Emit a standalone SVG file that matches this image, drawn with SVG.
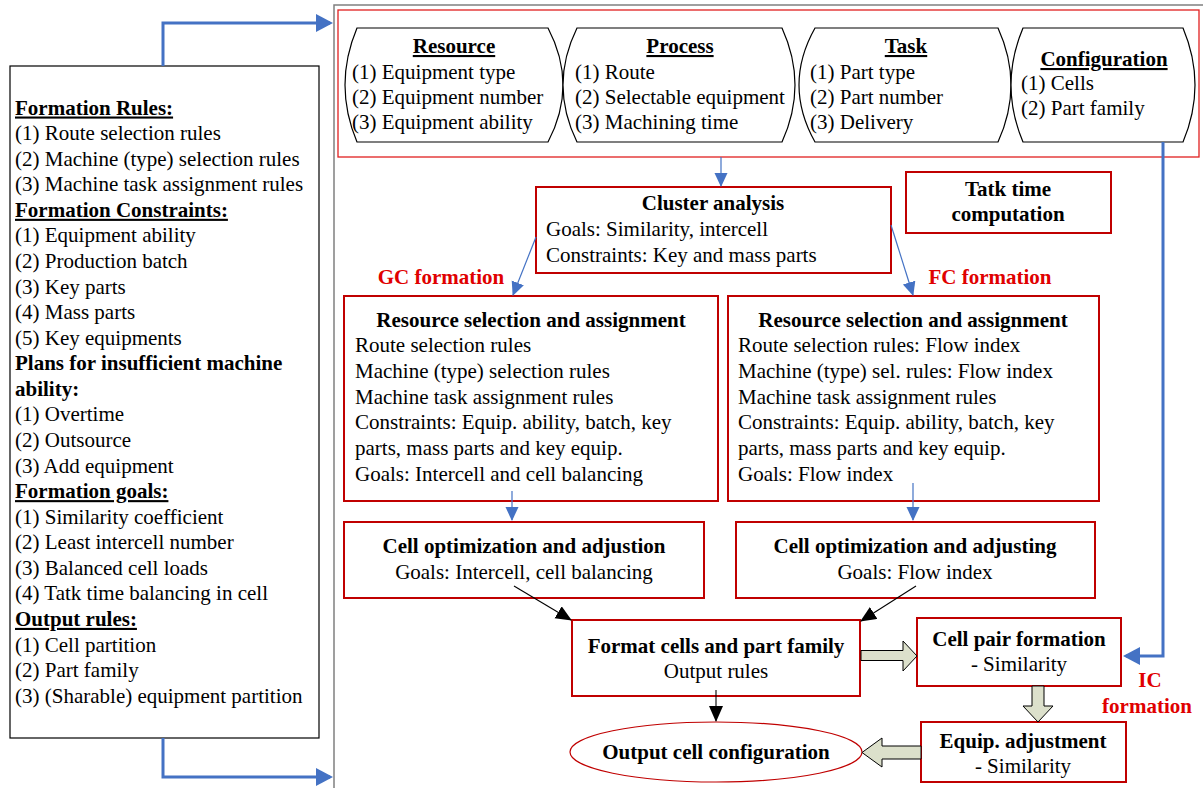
<svg xmlns="http://www.w3.org/2000/svg" width="1203" height="788" viewBox="0 0 1203 788">
  <defs>
    <style>
      text { font-family: "Liberation Serif", "Times New Roman", serif; font-size: 21px; fill: #000; }
      .b { font-weight: bold; }
      .u { text-decoration: underline; }
      .c { text-anchor: middle; }
      .red { fill: #E00000; font-weight: bold; }
      .box { fill: #fff; stroke: #C00000; stroke-width: 2; }
      .shape { fill: #fff; stroke: #000; stroke-width: 1.2; }
      .thick { fill: none; stroke: #4472C4; stroke-width: 3; }
      .thin { fill: none; stroke: #4472C4; stroke-width: 1.2; }
      .blk { fill: none; stroke: #000; stroke-width: 1.1; }
      .hollow { fill: #DCE0CB; stroke: #000; stroke-width: 1; }
    </style>
    <marker id="bigBlue" markerUnits="userSpaceOnUse" markerWidth="18" markerHeight="20" refX="14" refY="9" orient="auto">
      <path d="M0,0 L17,9 L0,18 Z" fill="#4472C4"/>
    </marker>
    <marker id="smallBlue" markerUnits="userSpaceOnUse" markerWidth="16" markerHeight="14" refX="13" refY="6.5" orient="auto">
      <path d="M0,0 L14,6.5 L0,13 Z" fill="#4472C4"/>
    </marker>
    <marker id="blackHead" markerUnits="userSpaceOnUse" markerWidth="18" markerHeight="16" refX="15" refY="7" orient="auto">
      <path d="M0,0 L16,7 L0,14 Z" fill="#000"/>
    </marker>
  </defs>

  <rect width="1203" height="788" fill="#fff"/>

  <!-- outer frame of the right-hand area -->
  <path d="M334,788 V5 H1203" fill="none" stroke="#808080" stroke-width="1.5"/>

  <!-- left panel: rules, constraints and goals -->
  <g id="rules-panel">
    <rect x="10" y="66" width="309" height="672" fill="#fff" stroke="#000" stroke-width="1.2"/>
    <text x="15" y="114.5" class="b u">Formation Rules:</text>
    <text x="15" y="140.1">(1) Route selection rules</text>
    <text x="15" y="165.6">(2) Machine (type) selection rules</text>
    <text x="15" y="191.2">(3) Machine task assignment rules</text>
    <text x="15" y="216.8" class="b u">Formation Constraints:</text>
    <text x="15" y="242.4">(1) Equipment ability</text>
    <text x="15" y="267.9">(2) Production batch</text>
    <text x="15" y="293.5">(3) Key parts</text>
    <text x="15" y="319.1">(4) Mass parts</text>
    <text x="15" y="344.6">(5) Key equipments</text>
    <text x="15" y="370.2" class="b">Plans for insufficient machine</text>
    <text x="15" y="395.8" class="b">ability:</text>
    <text x="15" y="421.3">(1) Overtime</text>
    <text x="15" y="446.9">(2) Outsource</text>
    <text x="15" y="472.5">(3) Add equipment</text>
    <text x="15" y="498.1" class="b u">Formation goals:</text>
    <text x="15" y="523.6">(1) Similarity coefficient</text>
    <text x="15" y="549.2">(2) Least intercell number</text>
    <text x="15" y="574.8">(3) Balanced cell loads</text>
    <text x="15" y="600.3">(4) Tatk time balancing in cell</text>
    <text x="15" y="625.9" class="b u">Output rules:</text>
    <text x="15" y="651.5">(1) Cell partition</text>
    <text x="15" y="677.0">(2) Part family</text>
    <text x="15" y="702.6">(3) (Sharable) equipment partition</text>
  </g>

  <!-- input data band -->
  <g id="input-band">
    <rect x="338" y="10" width="861" height="147" fill="none" stroke="#E02020" stroke-width="1.3"/>
  </g>

  <g id="resource">
    <path class="shape" d="M357,28 H548 Q578,85 548,142 H357 Q333,85 357,28 Z"/>
    <text x="454" y="53" class="b u c">Resource</text>
    <text x="352" y="79">(1) Equipment type</text>
    <text x="352" y="104">(2) Equipment number</text>
    <text x="352" y="129">(3) Equipment ability</text>
  </g>

  <g id="process">
    <path class="shape" d="M577,28 H782 Q808,85 782,142 H577 Q549,85 577,28 Z"/>
    <text x="680" y="53" class="b u c">Process</text>
    <text x="575" y="79">(1) Route</text>
    <text x="575" y="104">(2) Selectable equipment</text>
    <text x="575" y="129">(3) Machining time</text>
  </g>

  <g id="task">
    <path class="shape" d="M815,28 H998 Q1024,85 998,142 H815 Q783,85 815,28 Z"/>
    <text x="906" y="53" class="b u c">Task</text>
    <text x="810" y="79">(1) Part type</text>
    <text x="810" y="104">(2) Part number</text>
    <text x="810" y="129">(3) Delivery</text>
  </g>

  <g id="configuration">
    <path class="shape" d="M1023,28 H1183 Q1207,85 1183,142 H1023 Q999,85 1023,28 Z"/>
    <text x="1104" y="66" class="b u c">Configuration</text>
    <text x="1021" y="90">(1) Cells</text>
    <text x="1021" y="115">(2) Part family</text>
  </g>

  <g id="cluster-analysis">
    <rect class="box" x="536" y="187" width="355" height="86"/>
    <text x="713" y="210" class="b c">Cluster analysis</text>
    <text x="546" y="236">Goals: Similarity, intercell</text>
    <text x="546" y="262">Constraints: Key and mass parts</text>
  </g>

  <g id="tatk-time">
    <rect class="box" x="906" y="172" width="205" height="61"/>
    <text x="1008" y="196" class="b c">Tatk time</text>
    <text x="1008" y="221" class="b c">computation</text>
  </g>

  <g id="gc-label">
    <text x="441" y="284" class="red c">GC formation</text>
  </g>
  <g id="fc-label">
    <text x="990" y="284" class="red c">FC formation</text>
  </g>

  <g id="gc-resource">
    <rect class="box" x="344" y="296" width="374" height="205"/>
    <text x="531" y="326.5" class="b c">Resource selection and assignment</text>
    <text x="355" y="352.2">Route selection rules</text>
    <text x="355" y="377.9">Machine (type) selection rules</text>
    <text x="355" y="403.6">Machine task assignment rules</text>
    <text x="355" y="429.3">Constraints: Equip. ability, batch, key</text>
    <text x="355" y="455">parts, mass parts and key equip.</text>
    <text x="355" y="480.7">Goals: Intercell and cell balancing</text>
  </g>

  <g id="fc-resource">
    <rect class="box" x="728" y="296" width="371" height="205"/>
    <text x="913" y="326.5" class="b c">Resource selection and assignment</text>
    <text x="738" y="352.2">Route selection rules: Flow index</text>
    <text x="738" y="377.9">Machine (type) sel. rules: Flow index</text>
    <text x="738" y="403.6">Machine task assignment rules</text>
    <text x="738" y="429.3">Constraints: Equip. ability, batch, key</text>
    <text x="738" y="455">parts, mass parts and key equip.</text>
    <text x="738" y="480.7">Goals: Flow index</text>
  </g>

  <g id="gc-optimization">
    <rect class="box" x="344" y="522" width="360" height="76"/>
    <text x="524" y="553" class="b c">Cell optimization and adjustion</text>
    <text x="524" y="579" class="c">Goals: Intercell, cell balancing</text>
  </g>

  <g id="fc-optimization">
    <rect class="box" x="736" y="522" width="359" height="76"/>
    <text x="915" y="553" class="b c">Cell optimization and adjusting</text>
    <text x="915" y="579" class="c">Goals: Flow index</text>
  </g>

  <g id="format-cells">
    <rect class="box" x="572" y="620" width="288" height="76"/>
    <text x="716" y="653" class="b c">Format cells and part family</text>
    <text x="716" y="678" class="c">Output rules</text>
  </g>

  <g id="cell-pair">
    <rect class="box" x="917" y="618" width="204" height="68"/>
    <text x="1019" y="646" class="b c">Cell pair formation</text>
    <text x="1019" y="671" class="c">- Similarity</text>
  </g>

  <g id="equip-adjustment">
    <rect class="box" x="921" y="722" width="205" height="60"/>
    <text x="1023" y="748" class="b c">Equip. adjustment</text>
    <text x="1023" y="773" class="c">- Similarity</text>
  </g>

  <g id="output-configuration">
    <ellipse cx="716" cy="752" rx="146" ry="30" fill="#fff" stroke="#C00000" stroke-width="1.2"/>
    <text x="716" y="759" class="b c">Output cell configuration</text>
  </g>

  <g id="ic-label">
    <text x="1150" y="687" class="red c">IC</text>
    <text x="1147" y="713" class="red c">formation</text>
  </g>

  <!-- connectors -->
  <g id="connectors">
    <path class="thick" d="M163,66 V23 H330" marker-end="url(#bigBlue)"/>
    <path class="thick" d="M163,738 V777 H330" marker-end="url(#bigBlue)"/>
    <path class="thick" d="M1163,142 V656 H1126" marker-end="url(#bigBlue)"/>

    <path class="thin" d="M721,157 V186" marker-end="url(#smallBlue)"/>
    <path class="thin" d="M536,237 L513,295" marker-end="url(#smallBlue)"/>
    <path class="thin" d="M891,225 L913,295" marker-end="url(#smallBlue)"/>
    <path class="thin" d="M512,491 V520" marker-end="url(#smallBlue)"/>
    <path class="thin" d="M913,483 V520" marker-end="url(#smallBlue)"/>

    <path class="blk" d="M514,586 L571,620" marker-end="url(#blackHead)"/>
    <path class="blk" d="M916,586 L861,621" marker-end="url(#blackHead)"/>
    <path class="blk" d="M716,690 V721" marker-end="url(#blackHead)"/>

    <!-- block arrows -->
    <path class="hollow" d="M861,650.5 H903 V641 L917,656 L903,671 V660.5 H861 Z"/>
    <path class="hollow" d="M1032,686 V706 H1023 L1038,722 L1053,706 H1044 V686 Z"/>
    <path class="hollow" d="M921,746 H882 V738 L862,752.5 L882,767 V759 H921 Z"/>
  </g>
</svg>
